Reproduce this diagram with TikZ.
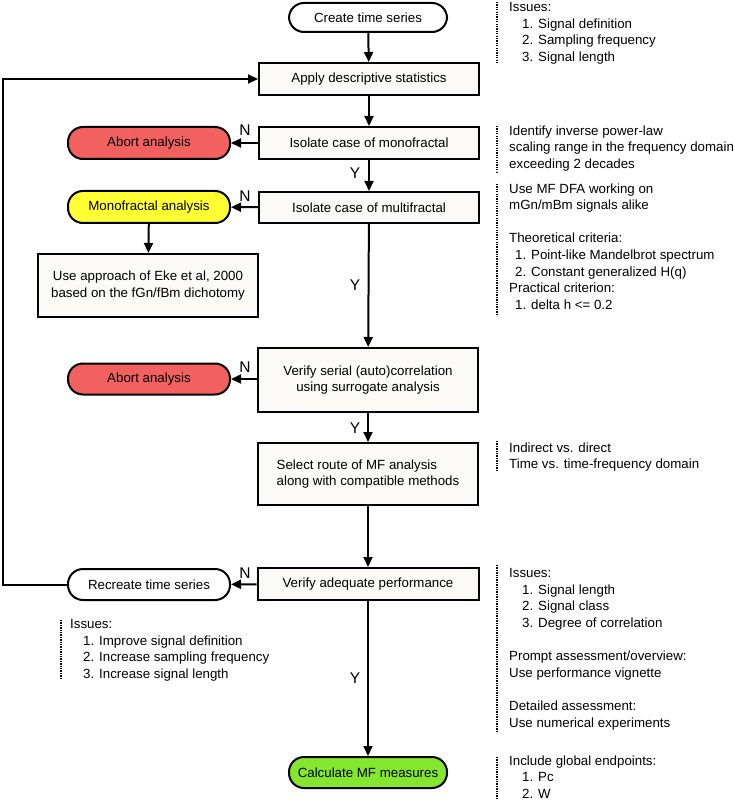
\documentclass[tikz,border=0pt]{standalone}
\usepackage{fontspec}
\setmainfont{Liberation Sans}
\usetikzlibrary{arrows.meta,calc}
\definecolor{cream}{RGB}{252,250,246}
\definecolor{abortred}{RGB}{242,96,96}
\definecolor{monoyellow}{RGB}{255,255,51}
\definecolor{calcgreen}{RGB}{132,230,46}
\begin{document}
\begin{tikzpicture}[x=1pt,y=-1pt,
  font=\fontsize{13.3}{16.6}\selectfont,
  proc/.style={draw, line width=2pt, fill=cream, inner sep=0pt, minimum width=220pt, minimum height=32pt, align=center},
  term/.style={draw, line width=2pt, rounded corners=15pt, inner sep=0pt, minimum width=162pt, minimum height=31pt, align=center},
  flow/.style={line width=2pt, -{Triangle[length=10pt,width=9pt]}},
  yn/.style={font=\fontsize{15.5}{18}\selectfont, inner sep=0pt},
  note/.style={anchor=north west, inner sep=0pt, align=left},
  dotline/.style={line width=2.2pt, dash pattern=on 1.3pt off 1.1pt}
]
\useasboundingbox (0,0) rectangle (734,802);

% main column
\node[term, fill=white, minimum width=158pt, minimum height=29pt] (start) at (368,17.5) {Create time series};
\node[proc] (apply) at (369,79) {Apply descriptive statistics};
\node[proc] (mono) at (369,143) {Isolate case of monofractal};
\node[proc, minimum height=31pt] (multi) at (369,207.5) {Isolate case of multifractal};
\node[proc, minimum height=64pt] (serial) at (368,380) {Verify serial (auto)correlation\\using surrogate analysis};
\node[proc, minimum height=62pt, align=left] (route) at (368,474) {Select route of MF analysis\\along with compatible methods};
\node[proc, minimum width=221pt] (adequate) at (368,584) {Verify adequate performance};
\node[term, fill=calcgreen, minimum width=158pt] (calc) at (368,772.5) {Calculate MF measures};

% left column
\node[term, fill=abortred, minimum height=32pt] (abort1) at (149,143) {Abort analysis};
\node[term, fill=monoyellow, minimum height=32pt] (monoan) at (149,207) {Monofractal analysis};
\node[proc, minimum height=63pt] (eke) at (148,285.5) {Use approach of Eke et al, 2000\\based on the fGn/fBm dichotomy};
\node[term, fill=abortred] (abort2) at (149,379) {Abort analysis};
\node[term, fill=white] (recreate) at (149,584.5) {Recreate time series};
\coordinate (fb) at (3,584.5);

% connectors
\draw[flow] (start) -- (apply);
\draw[flow] (apply) -- (mono);
\draw[flow] (mono) -- (multi);
\draw[flow] (mono) -- (abort1);
\draw[flow] (multi) -- (monoan);
\draw[flow] (monoan) -- (eke);
\draw[flow] (multi) -- (serial);
\draw[flow] (serial.west |- abort2.east) -- (abort2.east);
\draw[flow] (serial) -- (route);
\draw[flow] (route) -- (adequate);
\draw[flow] (adequate) -- (recreate);
\draw[flow] (adequate) -- (calc);
\draw[flow] (recreate.west) -- (fb) |- (apply.west);

% Y / N labels
\node[yn] (n1) at (245,130) {N};
\node[yn] (n2) at (245,196) {N};
\node[yn] (n3) at (245,367) {N};
\node[yn] (n4) at (245,573) {N};
\node[yn] (y1) at (355,173) {Y};
\node[yn] (y2) at (355,285) {Y};
\node[yn] (y3) at (355,428) {Y};
\node[yn] (y4) at (355,678) {Y};

% annotations
\draw[dotline] (497,2) -- (497,63);
\node[note] (a1) at (509,2.3) {Issues:\\\hspace*{13pt}1. Signal definition\\\hspace*{13pt}2. Sampling frequency\\\hspace*{13pt}3. Signal length};

\draw[dotline] (497,126) -- (497,172);
\node[note] (a2) at (509,125.3) {Identify inverse power-law\\scaling range in the frequency domain\\exceeding 2 decades};

\draw[dotline] (497,184) -- (497,316);
\node[note] (a3) at (509,183.3) {Use MF DFA working on\\mGn/mBm signals alike\\[16.6pt]Theoretical criteria:\\\hspace*{6pt}1. Point-like Mandelbrot spectrum\\\hspace*{6pt}2. Constant generalized H(q)\\Practical criterion:\\\hspace*{6pt}1. delta h <= 0.2};

\draw[dotline] (497,441) -- (497,472);
\node[note] (a4) at (509,442.3) {Indirect vs. direct\\Time vs. time-frequency domain};

\draw[dotline] (497,565) -- (497,733);
\node[note] (a5) at (509,568.3) {Issues:\\\hspace*{13pt}1. Signal length\\\hspace*{13pt}2. Signal class\\\hspace*{13pt}3. Degree of correlation\\[16.6pt]Prompt assessment/overview:\\Use performance vignette\\[16.6pt]Detailed assessment:\\Use numerical experiments};

\draw[dotline] (497,757) -- (497,800);
\node[note] (a6) at (509,755.3) {Include global endpoints:\\\hspace*{13pt}1. Pc\\\hspace*{13pt}2. W};

\draw[dotline] (61,620) -- (61,679);
\node[note] (a7) at (70,619.3) {Issues:\\\hspace*{13pt}1. Improve signal definition\\\hspace*{13pt}2. Increase sampling frequency\\\hspace*{13pt}3. Increase signal length};
\end{tikzpicture}
\end{document}
